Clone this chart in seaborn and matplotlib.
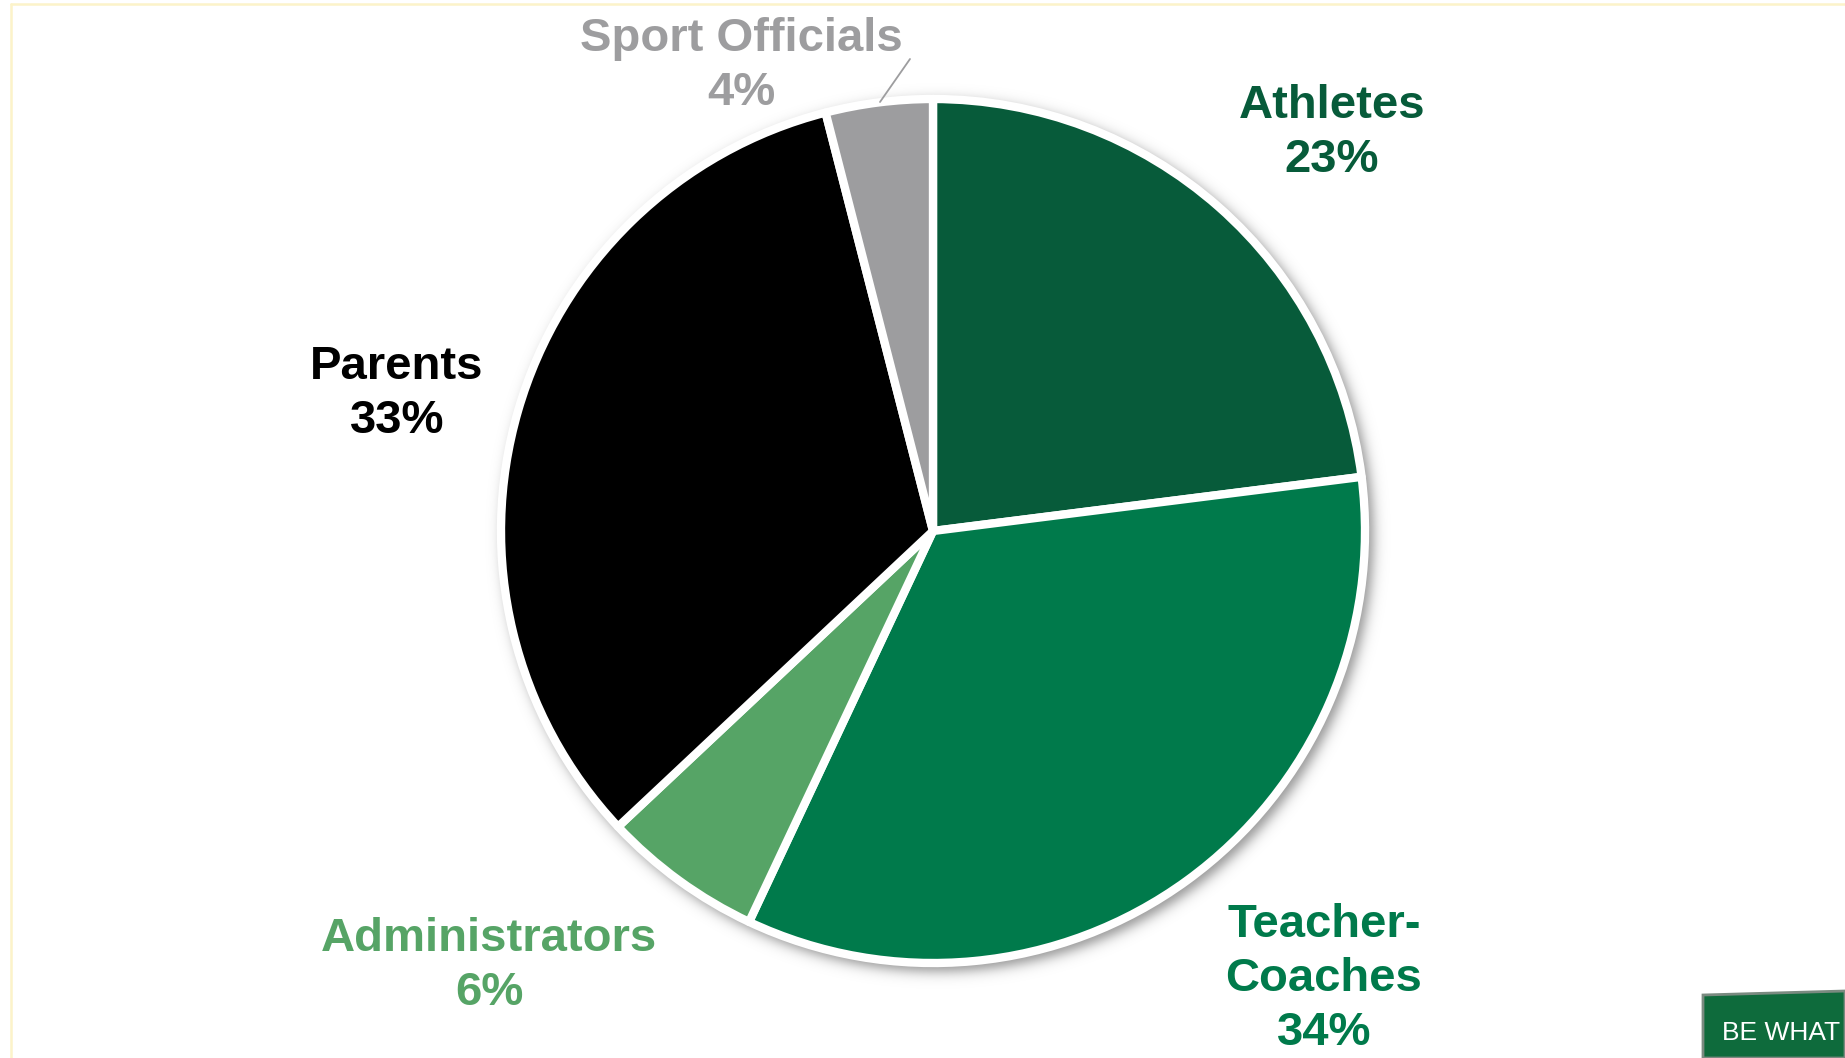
import numpy as np
import matplotlib
matplotlib.use("Agg")
import matplotlib.pyplot as plt
import seaborn as sns

# Survey respondents by role (percent of total)
categories = ["Athletes", "Teacher-\nCoaches", "Administrators", "Parents", "Sport Officials"]
shares = [23, 34, 6, 33, 4]
slice_colors = ["#075B3A", "#007A4B", "#56A466", "#000000", "#9D9D9F"]
label_colors = ["#075B3A", "#007A4B", "#56A466", "#000000", "#9D9D9F"]

sns.set_theme(style="white")
plt.rcParams["font.family"] = ["Liberation Sans", "DejaVu Sans"]
palette = sns.color_palette(slice_colors)

W, H = 1845, 1058
fig = plt.figure(figsize=(W / 100, H / 100), dpi=100)
ax = fig.add_axes([0, 0, 1, 1])
ax.set_xlim(0, W)
ax.set_ylim(0, H)
ax.set_aspect("equal")
ax.axis("off")

cx, cy, R = 933, H - 531, 432

# soft drop shadow behind the pie
pad = 60
xs = np.arange(cx - R - pad, cx + R + pad)
ys = np.arange(cy - R - pad, cy + R + pad)
gx, gy = np.meshgrid(xs, ys)
dist = np.hypot(gx - (cx + 5), gy - (cy - 5))
alpha = 0.42 * 0.5 * (1 - np.tanh((dist - (R + 4)) / 7.5))
shadow = np.zeros(gx.shape + (4,))
shadow[..., 3] = alpha
ax.imshow(shadow, extent=(xs[0], xs[-1], ys[0], ys[-1]), origin="lower",
          zorder=0.5, interpolation="bilinear")

ax.pie(shares, colors=palette, startangle=90, counterclock=False,
       center=(cx, cy), radius=R, frame=True,
       wedgeprops=dict(edgecolor="white", linewidth=6, joinstyle="round"))
ax.set_xlim(0, W)
ax.set_ylim(0, H)
ax.axis("off")

# labels placed around the pie
label_pos = [(1332, 133), (1324, 979), (489, 966), (397, 394), (741, 66)]
for name, val, col, (lx, ly) in zip(categories, shares, label_colors, label_pos):
    ax.text(lx, H - ly, f"{name}\n{val}%", ha="center", va="center",
            fontsize=34, fontweight="bold", color=col, linespacing=1.3,
            zorder=5)

# leader line for the small slice
ax.plot([910, 880], [H - 59, H - 102], color="#9D9D9F", lw=1.3, zorder=5)

# slide frame lines
ax.plot([11, W], [H - 4, H - 4], color="#FCF3C9", lw=1.8, zorder=6, clip_on=False)
ax.plot([11, 11], [H - 4, 0], color="#FCF3C9", lw=1.8, zorder=6, clip_on=False)

# footer banner
ax.add_patch(plt.Polygon([(1703, H - 995), (W, H - 991), (W, 0), (1703, 0)],
                         closed=True, facecolor="#0E6B3C", edgecolor="#7A8A80",
                         lw=2, zorder=6))
ax.text(1722, H - 1033, "BE WHAT", ha="left", va="center", fontsize=19,
        color="white", zorder=7)

fig.savefig("out.png", dpi=100, facecolor="white")
